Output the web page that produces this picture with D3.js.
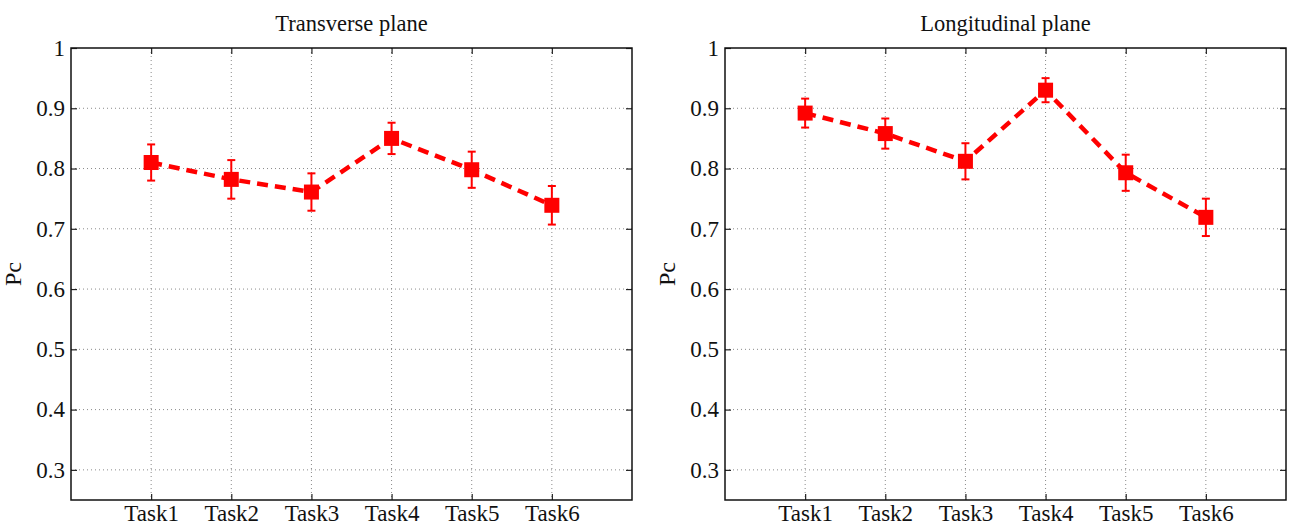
<!DOCTYPE html>
<html>
<head>
<meta charset="utf-8">
<script src="https://cdn.jsdelivr.net/npm/d3@7"></script>
<style>
  html, body { margin: 0; padding: 0; background: #fff; }
  svg { display: block; }
  text { font-family: "Liberation Serif", "Times New Roman", serif; fill: #111; }
</style>
</head>
<body>
<svg id="chart" width="1293" height="527"></svg>
<script>
// ---- data ----
const categories = ["Task1", "Task2", "Task3", "Task4", "Task5", "Task6"];
const transverseMean = [0.810, 0.782, 0.761, 0.850, 0.798, 0.739];
const transverseErr  = [0.030, 0.032, 0.031, 0.026, 0.030, 0.032];
const longitudinalMean = [0.892, 0.858, 0.812, 0.930, 0.793, 0.719];
const longitudinalErr  = [0.024, 0.025, 0.030, 0.020, 0.030, 0.031];
const yTicks = [0.3, 0.4, 0.5, 0.6, 0.7, 0.8, 0.9, 1];
const yTickLabels = ["0.3", "0.4", "0.5", "0.6", "0.7", "0.8", "0.9", "1"];
const panelTitles = ["Transverse plane", "Longitudinal plane"];
const yLabel = "Pc";

(function () {
const svg = d3.select("#chart");
const panels = [
  { title: panelTitles[0], mean: transverseMean, err: transverseErr, left: 71 },
  { title: panelTitles[1], mean: longitudinalMean, err: longitudinalErr, left: 725 }
];

const W = 561, plotTop = 48, plotBottom = 500;
const red = "#ff0000";

panels.forEach(p => {
  const x = d3.scaleLinear().domain([0, 7]).range([p.left, p.left + W]);
  const y = d3.scaleLinear().domain([0.25, 1]).range([plotBottom, plotTop]);
  const g = svg.append("g");
  const xs = categories.map((c, i) => i + 1);

  // grid
  g.selectAll(".vg").data(xs).enter().append("line")
    .attr("x1", d => x(d)).attr("x2", d => x(d))
    .attr("y1", plotTop).attr("y2", plotBottom)
    .attr("stroke", "#8a8a8a").attr("stroke-width", 1)
    .attr("stroke-dasharray", "1,3");
  g.selectAll(".hg").data(yTicks.filter(v => v < 1)).enter().append("line")
    .attr("x1", x(0)).attr("x2", x(7))
    .attr("y1", d => y(d)).attr("y2", d => y(d))
    .attr("stroke", "#8a8a8a").attr("stroke-width", 1)
    .attr("stroke-dasharray", "1,3");

  // axes (ticks inward)
  const ax = d3.axisBottom(x).tickValues(xs).tickFormat((d, i) => categories[i]).tickSize(-6).tickPadding(5);
  const axT = d3.axisTop(x).tickValues(xs).tickFormat("").tickSize(-6);
  const ay = d3.axisLeft(y).tickValues(yTicks).tickFormat((d, i) => yTickLabels[i]).tickSize(-6).tickPadding(6);
  const ayR = d3.axisRight(y).tickValues(yTicks).tickFormat("").tickSize(-6);

  // line
  const line = d3.line().x((d, i) => x(xs[i])).y(d => y(d));
  g.append("path").datum(p.mean)
    .attr("d", line).attr("fill", "none")
    .attr("stroke", red).attr("stroke-width", 4.5)
    .attr("stroke-dasharray", "11,7");

  // error bars
  const cap = 4;
  p.mean.forEach((m, i) => {
    const cx = x(xs[i]);
    const y1 = y(m + p.err[i]), y0 = y(m - p.err[i]);
    g.append("line").attr("x1", cx).attr("x2", cx).attr("y1", y1).attr("y2", y0)
      .attr("stroke", red).attr("stroke-width", 2);
    g.append("line").attr("x1", cx - cap).attr("x2", cx + cap).attr("y1", y1).attr("y2", y1)
      .attr("stroke", red).attr("stroke-width", 2);
    g.append("line").attr("x1", cx - cap).attr("x2", cx + cap).attr("y1", y0).attr("y2", y0)
      .attr("stroke", red).attr("stroke-width", 2);
  });

  // markers
  const s = 15;
  g.selectAll(".mk").data(p.mean).enter().append("rect")
    .attr("x", (d, i) => x(xs[i]) - s / 2)
    .attr("y", d => y(d) - s / 2)
    .attr("width", s).attr("height", s)
    .attr("fill", red);

  const styleAxis = sel => {
    sel.select(".domain").remove();
    sel.selectAll(".tick line").attr("stroke", "#222").attr("stroke-width", 1.2);
    sel.selectAll(".tick text").attr("font-size", 23).attr("font-family", "Liberation Serif").attr("fill", "#111");
  };
  g.append("g").attr("transform", `translate(0,${plotBottom})`).call(ax).call(styleAxis);
  g.append("g").attr("transform", `translate(0,${plotTop})`).call(axT).call(styleAxis);
  g.append("g").attr("transform", `translate(${x(0)},0)`).call(ay).call(styleAxis);
  g.append("g").attr("transform", `translate(${x(7)},0)`).call(ayR).call(styleAxis);

  // box
  g.append("rect").attr("x", x(0)).attr("y", plotTop).attr("width", x(7) - x(0)).attr("height", plotBottom - plotTop)
    .attr("fill", "none").attr("stroke", "#111").attr("stroke-width", 1.5);

  // title
  g.append("text").attr("x", (x(0) + x(7)) / 2).attr("y", 31)
    .attr("text-anchor", "middle").attr("font-size", 22.5).text(p.title);

  // y label
  g.append("text")
    .attr("transform", `translate(${p.left - 50},${(plotTop + plotBottom) / 2}) rotate(-90)`)
    .attr("text-anchor", "middle").attr("font-size", 24).text(yLabel);
});
})();
</script>
</body>
</html>
